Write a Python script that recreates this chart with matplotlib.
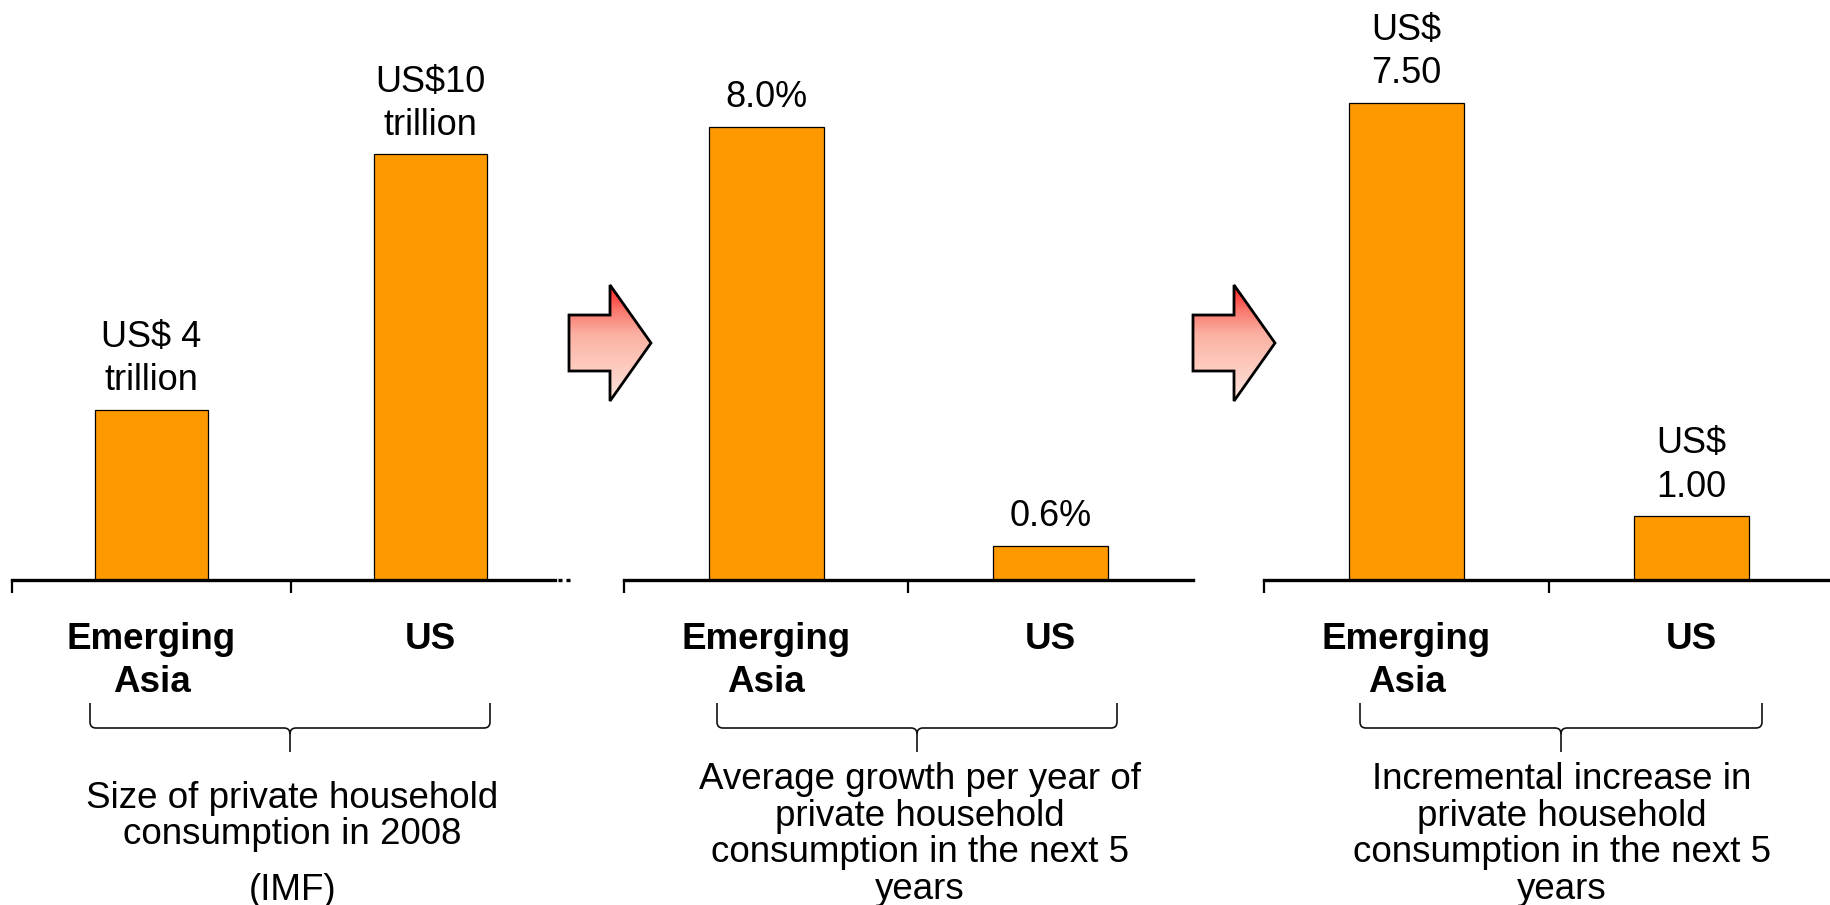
import numpy as np
import matplotlib
matplotlib.use("Agg")
import matplotlib.pyplot as plt
from matplotlib.patches import Polygon, PathPatch
from matplotlib.path import Path

plt.rcParams['font.family'] = ['Liberation Sans', 'DejaVu Sans']

# ---- data -------------------------------------------------------------
categories = ["Emerging\nAsia", "US"]

consumption_2008 = [4.0, 10.0]            # US$ trillion
consumption_labels = ["US$ 4\ntrillion", "US$10\ntrillion"]

growth_per_year = [8.0, 0.6]              # % per year, next 5 years
growth_labels = ["8.0%", "0.6%"]

increment_5y = [7.50, 1.00]               # US$ trillion, next 5 years
increment_labels = ["US$\n7.50", "US$\n1.00"]

captions = [
    "Size of private household\nconsumption in 2008",
    "Average growth per year of\nprivate household\nconsumption in the next 5\nyears",
    "Incremental increase in\nprivate household\nconsumption in the next 5\nyears",
]
source_note = "(IMF)"

# ---- layout -----------------------------------------------------------
W, H = 1831, 905
BAR_COLOR = "#FF9900"
fig = plt.figure(figsize=(W / 100, H / 100), dpi=100)


def px_axes(left, right, top, bottom, **kw):
    return fig.add_axes([left / W, 1 - bottom / H, (right - left) / W, (bottom - top) / H], **kw)


panels = [
    dict(values=consumption_2008, labels=consumption_labels, span=(12, 570), ymax=13.63),
    dict(values=growth_per_year, labels=growth_labels, span=(624, 1193), ymax=10.24),
    dict(values=increment_5y, labels=increment_labels, span=(1264, 1834), ymax=9.12),
]
AXIS_Y = 580

axes = []
for k, p in enumerate(panels):
    ax = px_axes(p["span"][0], p["span"][1], 0, AXIS_Y)
    ax.set_facecolor("none")
    x = np.arange(len(categories))
    ax.bar(x, p["values"], width=0.405, color=BAR_COLOR, edgecolor="black",
           linewidth=0.9, zorder=2)
    for xi, v, lab in zip(x, p["values"], p["labels"]):
        ax.annotate(lab, xy=(xi, v), xytext=(0, 8.5), textcoords="offset points",
                    ha="center", va="bottom", fontsize=26, linespacing=1.3)
    ax.set_xlim(-0.5, 1.5)
    ax.set_ylim(0, p["ymax"])
    for side in ("left", "right", "top"):
        ax.spines[side].set_visible(False)
    ax.spines["bottom"].set_linewidth(2.4)
    ax.spines["bottom"].set_zorder(3)
    ax.set_yticks([])
    # boundary ticks between categories
    ax.set_xticks([-0.5, 0.5])
    ax.set_xticklabels([])
    ax.tick_params(axis="x", which="major", direction="out", length=9, width=1.6)
    # category names on minor ticks at bar centres
    ax.set_xticks(x, minor=True)
    ax.set_xticklabels(categories, minor=True, fontweight="bold", fontsize=26.5,
                       linespacing=1.3)
    ax.tick_params(axis="x", which="minor", length=0, pad=30)
    axes.append(ax)

# small dotted tail at the end of the first axis line
axes[0].spines["bottom"].set_bounds(-0.5, 1.446)
axes[0].plot([1.458, 1.5], [0, 0], color="black", lw=2.4, ls=(0, (1.2, 1.2)),
             clip_on=False, solid_capstyle="butt", zorder=3)

# ---- overlay in pixel coordinates for arrows, braces and captions -------
ov = fig.add_axes([0, 0, 1, 1], zorder=5)
ov.set_facecolor("none")
ov.axis("off")

grad_colors = np.array([
    [255, 30, 30], [250, 120, 110], [251, 176, 162], [252, 196, 182],
    [253, 212, 202], [255, 228, 224],
]) / 255.0
grad_pos = np.array([0.0, 0.22, 0.42, 0.62, 0.82, 1.0])


def gradient_arrow(x_left, y_mid):
    shaft_half, head_half = 28, 58
    shaft_len, head_len = 41, 41
    verts = [
        (x_left, y_mid - shaft_half),
        (x_left + shaft_len, y_mid - shaft_half),
        (x_left + shaft_len, y_mid - head_half),
        (x_left + shaft_len + head_len, y_mid),
        (x_left + shaft_len, y_mid + head_half),
        (x_left + shaft_len, y_mid + shaft_half),
        (x_left, y_mid + shaft_half),
    ]
    n = 200
    t = np.linspace(0, 1, n)
    rgb = np.stack([np.interp(t, grad_pos, grad_colors[:, c]) for c in range(3)], axis=1)
    img = np.repeat(rgb[:, None, :], 4, axis=1)
    im = ov.imshow(img, extent=(x_left, x_left + shaft_len + head_len,
                                y_mid + head_half, y_mid - head_half),
                   origin="upper", aspect="auto", interpolation="bilinear", zorder=6)
    outline = Polygon(verts, closed=True, facecolor="none", edgecolor="black",
                      linewidth=2.0, joinstyle="miter", zorder=7)
    ov.add_patch(outline)
    im.set_clip_path(outline)


def brace(x_left, x_right, y_top=703, y_line=728, y_tip=752, r=6):
    xm = (x_left + x_right) / 2
    verts = [
        (x_left, y_top), (x_left, y_line - r), (x_left, y_line), (x_left + r, y_line),
        (xm - r, y_line), (xm, y_line), (xm, y_line + r), (xm, y_tip),
        (xm, y_line + r), (xm, y_line), (xm + r, y_line),
        (x_right - r, y_line), (x_right, y_line), (x_right, y_line - r), (x_right, y_top),
    ]
    codes = [Path.MOVETO, Path.LINETO, Path.CURVE3, Path.CURVE3,
             Path.LINETO, Path.CURVE3, Path.CURVE3, Path.LINETO,
             Path.MOVETO, Path.CURVE3, Path.CURVE3,
             Path.LINETO, Path.CURVE3, Path.CURVE3, Path.LINETO]
    ov.add_patch(PathPatch(Path(verts, codes), facecolor="none", edgecolor="#111111",
                           linewidth=1.2, zorder=6))


gradient_arrow(569, 343)
gradient_arrow(1193, 343)

brace(90, 490)
brace(717, 1117)
brace(1360, 1762)

ov.text(292, 781, captions[0], ha="center", va="top", fontsize=26.5, linespacing=1.03)
ov.text(293, 900, source_note, ha="center", va="baseline", fontsize=26.5)
ov.text(920, 762, captions[1], ha="center", va="top", fontsize=26.5, linespacing=1.06)
ov.text(1562, 762, captions[2], ha="center", va="top", fontsize=26.5, linespacing=1.06)

ov.set_xlim(0, W)
ov.set_ylim(H, 0)

fig.savefig("out.png", dpi=100, facecolor="white")
